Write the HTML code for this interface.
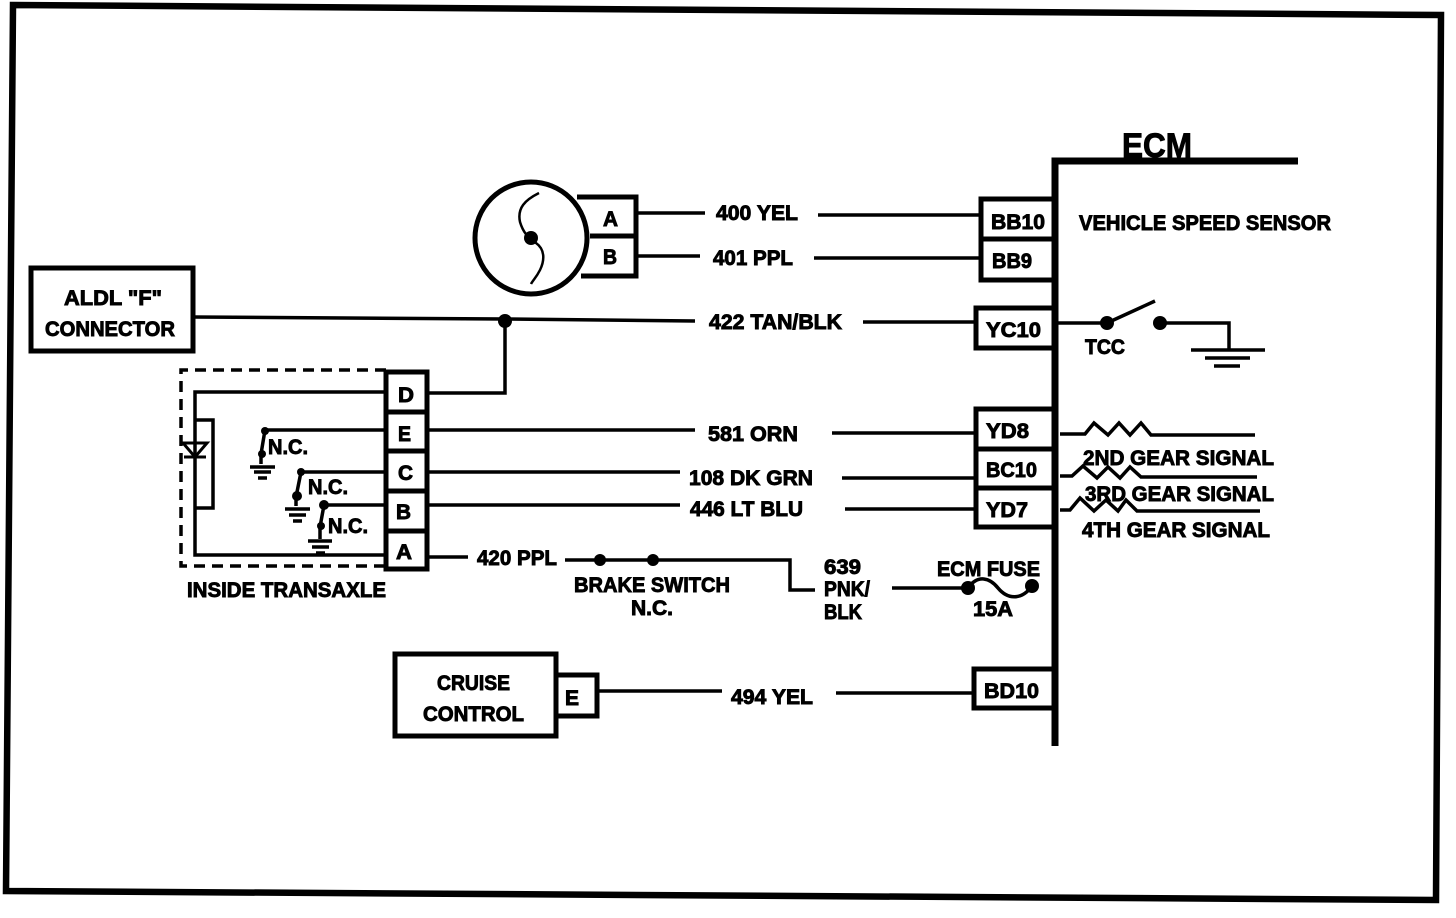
<!DOCTYPE html>
<html><head><meta charset="utf-8"><style>
html,body{margin:0;padding:0;background:#fff;width:1456px;height:918px;overflow:hidden}
svg{display:block}
text{font-family:"Liberation Sans",sans-serif;font-weight:bold;font-size:21px;fill:#000;stroke:#000;stroke-width:.9px}
</style></head><body>
<svg width="1456" height="918" viewBox="0 0 1456 918" xmlns="http://www.w3.org/2000/svg">
<rect x="0" y="0" width="1456" height="918" fill="#fff"/>
<g fill="none" stroke="#000" stroke-width="3.5">
<!-- frame -->
<path d="M13 5 L1441 15 L1436 900 L6 891 Z" stroke-width="6.5" fill="none"/>
<!-- ECM -->
<path d="M1055 746V161H1298" stroke-width="7"/>
<!-- ECM pin boxes -->
<rect x="981" y="199" width="74" height="81" stroke-width="5"/><path d="M981 239H1055" stroke-width="5"/>
<rect x="976" y="308" width="79" height="40" stroke-width="5"/>
<rect x="976" y="409" width="79" height="118" stroke-width="5"/><path d="M976 449H1055M976 488H1055" stroke-width="5"/>
<rect x="974" y="669" width="81" height="39" stroke-width="5"/>
<!-- ALDL -->
<rect x="31" y="268" width="162" height="83" stroke-width="5"/>
<!-- Cruise -->
<rect x="395" y="654" width="161" height="82" stroke-width="5"/>
<rect x="556" y="675" width="41" height="41" stroke-width="5"/>
<!-- Sensor -->
<circle cx="531" cy="238" r="56" stroke-width="5"/>
<path d="M577 197H636V276H581M590 236H636" stroke-width="5"/>
<path d="M539 193C525 200 517 208 520 222C523 232 528 238 536 243C546 250 544 262 540 270C536 278 533 280 531 284" stroke-width="2.5"/>
<!-- Connector block -->
<rect x="386" y="372" width="41" height="197" stroke-width="5"/>
<path d="M386 412H427M386 451H427M386 491H427M386 531H427" stroke-width="5"/>
<!-- dashed -->
<path d="M386 370H181V566H386" stroke-width="3.5" stroke-dasharray="11 7"/>
<!-- inner wiring -->
<path d="M386 392H195V555H386"/>
<path d="M195 420H213V508H195"/>
<path d="M213 420V508" stroke-width="3" stroke-dasharray="7 2"/>
<path d="M183 443H207L195 457ZM184 457H206" stroke-width="3"/>
<path d="M386 430H265M265 430L261 454V464M250 467H275M254 472H271M258 478H267"/>
<path d="M386 472H301M301 472L296 497V506M285 509H310M289 515H306M293 521H302"/>
<path d="M386 505H324M324 505L320 527V539M308 541H332M312 547H329M316 553H325"/>
<!-- main wires -->
<path d="M636 213H705M818 215H981"/>
<path d="M636 256H700M814 258H981"/>
<path d="M193 317L505 319L695 321M863 322H976"/>
<path d="M427 393H505V321"/>
<path d="M427 430H695M832 433H976"/>
<path d="M427 472H680M842 478H976"/>
<path d="M427 505H680M845 509H976"/>
<path d="M427 557H468M565 560H790V590H815"/>
<path d="M892 588H968M968 588C978 574 990 578 998 588C1008 600 1022 600 1032 586"/>
<path d="M597 691H722M836 693H974"/>
<!-- TCC -->
<path d="M1055 323H1107M1107 323L1155 301M1160 323H1229V350M1191 350H1265M1205 358H1250M1214 366H1240"/>
<!-- resistors -->
<path d="M1060 434H1085L1094 423L1108 435L1119 423L1130 435L1141 423L1151 435H1255"/>
<path d="M1060 476H1072L1083 466L1097 478L1108 467L1120 478L1130 467L1141 477H1257"/>
<path d="M1060 510H1070L1080 498L1094 511L1106 500L1118 511L1126 500L1137 511H1260"/>
</g>
<g fill="#000">
<circle cx="505" cy="321" r="7"/>
<circle cx="531" cy="238" r="7"/>
<circle cx="1107" cy="323" r="7"/><circle cx="1160" cy="323" r="7"/>
<circle cx="265" cy="431" r="4"/><circle cx="262" cy="454" r="4"/>
<circle cx="301" cy="472" r="4"/><circle cx="297" cy="496" r="5"/>
<circle cx="324" cy="505" r="5"/><circle cx="321" cy="526" r="4"/>
<circle cx="600" cy="560" r="6"/><circle cx="653" cy="560" r="6"/>
<circle cx="968" cy="588" r="7"/><circle cx="1032" cy="586" r="7"/>
</g>
<g>
<text x="1122" y="157" style="font-size:34px;font-weight:bold" textLength="70" lengthAdjust="spacingAndGlyphs">ECM</text>
<text x="1079" y="230" textLength="252" lengthAdjust="spacingAndGlyphs">VEHICLE SPEED SENSOR</text>
<text x="1085" y="354" textLength="40" lengthAdjust="spacingAndGlyphs">TCC</text>
<text x="1083" y="465" textLength="191" lengthAdjust="spacingAndGlyphs">2ND GEAR SIGNAL</text>
<text x="1085" y="501" textLength="189" lengthAdjust="spacingAndGlyphs">3RD GEAR SIGNAL</text>
<text x="1082" y="537" textLength="188" lengthAdjust="spacingAndGlyphs">4TH GEAR SIGNAL</text>
<text x="991" y="229" textLength="54" lengthAdjust="spacingAndGlyphs">BB10</text>
<text x="992" y="268" textLength="40" lengthAdjust="spacingAndGlyphs">BB9</text>
<text x="986" y="337" textLength="55" lengthAdjust="spacingAndGlyphs">YC10</text>
<text x="986" y="438" textLength="43" lengthAdjust="spacingAndGlyphs">YD8</text>
<text x="986" y="477" textLength="51" lengthAdjust="spacingAndGlyphs">BC10</text>
<text x="986" y="517" textLength="42" lengthAdjust="spacingAndGlyphs">YD7</text>
<text x="984" y="698" textLength="55" lengthAdjust="spacingAndGlyphs">BD10</text>
<text x="716" y="220" textLength="82" lengthAdjust="spacingAndGlyphs">400 YEL</text>
<text x="713" y="265" textLength="80" lengthAdjust="spacingAndGlyphs">401 PPL</text>
<text x="709" y="329" textLength="133" lengthAdjust="spacingAndGlyphs">422 TAN/BLK</text>
<text x="708" y="441" textLength="90" lengthAdjust="spacingAndGlyphs">581 ORN</text>
<text x="689" y="485" textLength="124" lengthAdjust="spacingAndGlyphs">108 DK GRN</text>
<text x="690" y="516" textLength="113" lengthAdjust="spacingAndGlyphs">446 LT BLU</text>
<text x="477" y="565" textLength="80" lengthAdjust="spacingAndGlyphs">420 PPL</text>
<text x="731" y="704" textLength="82" lengthAdjust="spacingAndGlyphs">494 YEL</text>
<text x="574" y="592" textLength="156" lengthAdjust="spacingAndGlyphs">BRAKE SWITCH</text>
<text x="631" y="615" textLength="42" lengthAdjust="spacingAndGlyphs">N.C.</text>
<text x="824" y="574" textLength="37" lengthAdjust="spacingAndGlyphs">639</text>
<text x="824" y="596" textLength="46" lengthAdjust="spacingAndGlyphs">PNK/</text>
<text x="824" y="619" textLength="38" lengthAdjust="spacingAndGlyphs">BLK</text>
<text x="937" y="576" textLength="103" lengthAdjust="spacingAndGlyphs">ECM FUSE</text>
<text x="973" y="616" textLength="40" lengthAdjust="spacingAndGlyphs">15A</text>
<text x="64" y="305" textLength="98" lengthAdjust="spacingAndGlyphs">ALDL "F"</text>
<text x="45" y="336" textLength="130" lengthAdjust="spacingAndGlyphs">CONNECTOR</text>
<text x="437" y="690" textLength="73" lengthAdjust="spacingAndGlyphs">CRUISE</text>
<text x="423" y="721" textLength="101" lengthAdjust="spacingAndGlyphs">CONTROL</text>
<text x="565" y="705" textLength="14" lengthAdjust="spacingAndGlyphs">E</text>
<text x="603" y="226" textLength="15" lengthAdjust="spacingAndGlyphs">A</text>
<text x="603" y="264" textLength="14" lengthAdjust="spacingAndGlyphs">B</text>
<text x="398" y="402" textLength="16" lengthAdjust="spacingAndGlyphs">D</text>
<text x="398" y="441" textLength="13" lengthAdjust="spacingAndGlyphs">E</text>
<text x="398" y="480" textLength="15" lengthAdjust="spacingAndGlyphs">C</text>
<text x="396" y="519" textLength="15" lengthAdjust="spacingAndGlyphs">B</text>
<text x="396" y="559" textLength="16" lengthAdjust="spacingAndGlyphs">A</text>
<text x="268" y="454" textLength="40" lengthAdjust="spacingAndGlyphs">N.C.</text>
<text x="308" y="494" textLength="40" lengthAdjust="spacingAndGlyphs">N.C.</text>
<text x="328" y="533" textLength="40" lengthAdjust="spacingAndGlyphs">N.C.</text>
<text x="187" y="597" textLength="199" lengthAdjust="spacingAndGlyphs">INSIDE TRANSAXLE</text>
</g>
</svg>
</body></html>
